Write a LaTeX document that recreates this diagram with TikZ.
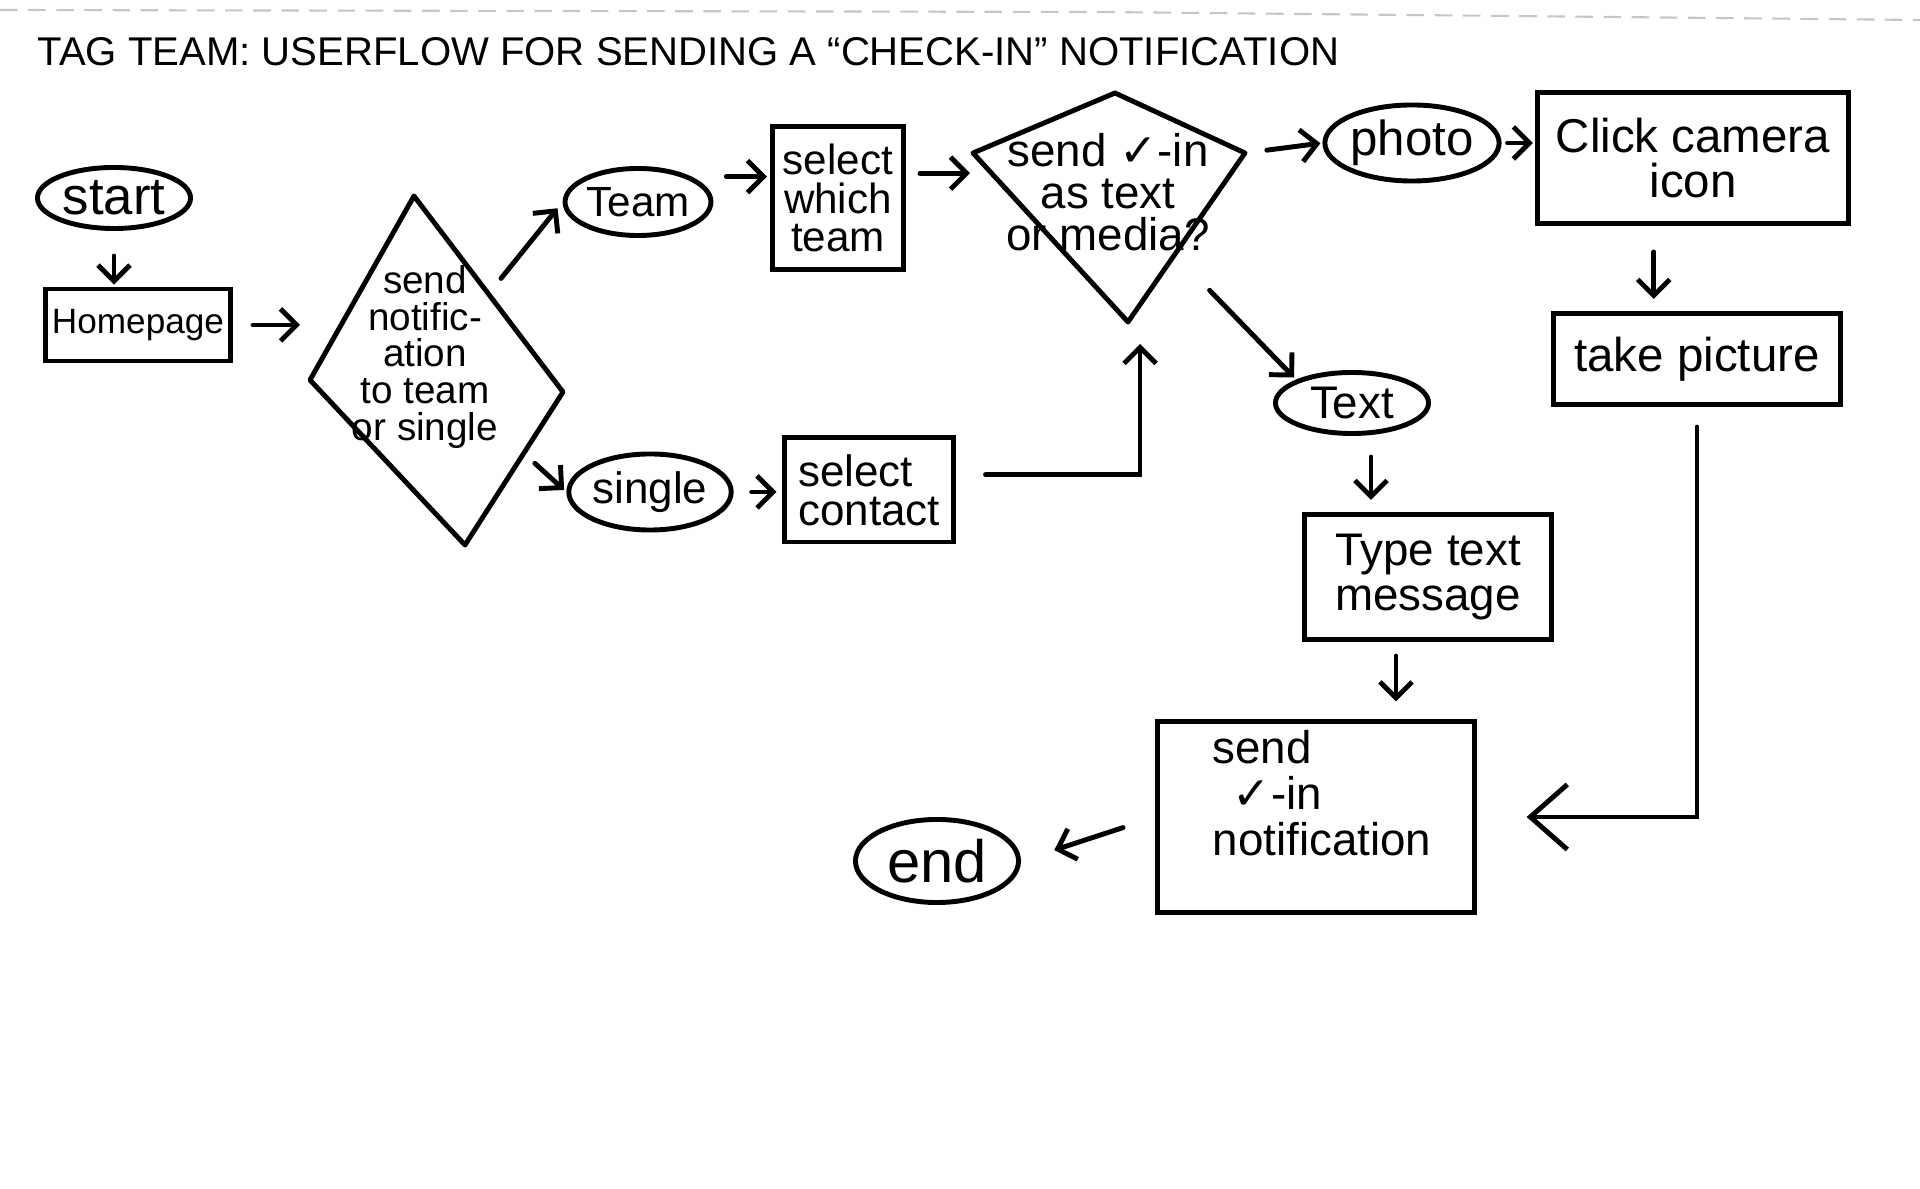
\documentclass[tikz,border=0pt]{standalone}
\usepackage{fontspec}
\setmainfont{Liberation Sans}
\newfontfamily\symfnt{DejaVu Sans}
\usetikzlibrary{shapes.geometric,arrows.meta,calc}
\newcommand{\chkm}{{\symfnt ✓}}
\begin{document}
\begin{tikzpicture}[x=0.01cm,y=-0.01cm,
  ink/.style={line width=1.4pt, black},
  boxn/.style={ink, draw, rectangle, inner sep=0pt, align=center, font=\fontsize{13}{13}\selectfont},
  term/.style={ink, draw, ellipse, inner sep=0pt, font=\fontsize{14}{14}\selectfont},
  lbl/.style={inner sep=0pt, align=center},
  arr/.style={ink, -{Straight Barb[length=1.6mm,width=3.2mm]}, line cap=round},
  bigarr/.style={ink, -{Straight Barb[length=3.7mm,width=6.5mm]}, line cap=round},
]
\useasboundingbox (0,0) rectangle (1920,1189);
\fill[white] (0,0) rectangle (1920,1189);
\draw[gray!45, line width=0.6pt, dash pattern=on 5pt off 3pt] (0,10) -- (1100,12) -- (1920,20);

\node[anchor=west, inner sep=0pt, font=\fontsize{11.4}{12}\selectfont] (title) at (37,52) {TAG TEAM: USERFLOW FOR SENDING A “CHECK-IN” NOTIFICATION};

\node[term, minimum width=1.53cm, minimum height=0.61cm, font=\fontsize{15}{15}\selectfont] (start) at (114,198) {start};
\node[boxn, minimum width=1.85cm, minimum height=0.72cm, font=\fontsize{10}{11}\selectfont] (home) at (138,325) {Homepage};

\coordinate (d1n) at (414,196);
\coordinate (d1e) at (563,392);
\coordinate (d1s) at (465,545);
\coordinate (d1w) at (310,380);
\draw[ink, line join=round] (d1n) -- (d1e) -- (d1s) -- (d1w) -- cycle;
\node[lbl, font=\fontsize{11}{10.5}\selectfont] (d1t) at (425,357) {send\\notific-\\ation\\to team\\or single};

\node[term, minimum width=1.38cm, minimum height=0.67cm, font=\fontsize{12}{12}\selectfont] (team) at (638,202) {Team};
\node[term, minimum width=1.32cm, minimum height=0.76cm, font=\fontsize{12.5}{12}\selectfont] (single) at (650,492) {single};
\node[boxn, minimum width=1.31cm, minimum height=1.43cm, font=\fontsize{12}{11}\selectfont] (swt) at (838,198) {select\\which\\team};
\node[boxn, minimum width=1.68cm, minimum height=1.04cm, align=left, font=\fontsize{12.5}{11}\selectfont] (sc) at (869,490) {select\\contact};

\coordinate (d2n) at (1115,93);
\coordinate (d2e) at (1245,153);
\coordinate (d2s) at (1128,322);
\coordinate (d2w) at (973,153);
\draw[ink, line join=round] (d2n) -- (d2e) -- (d2s) -- (d2w) -- cycle;
\node[lbl, font=\fontsize{13}{12}\selectfont] (d2) at (1108,192) {send \chkm-in\\as text\\or media?};

\node[term, minimum width=1.47cm, minimum height=0.76cm] (photo) at (1412,143) {photo};
\node[boxn, minimum width=3.11cm, minimum height=1.31cm, font=\fontsize{13.5}{13}\selectfont] (cc) at (1693,158) {Click camera\\icon};
\node[boxn, minimum width=2.87cm, minimum height=0.91cm, font=\fontsize{13.5}{13}\selectfont] (tp) at (1697,359) {take picture};
\node[term, minimum width=1.53cm, minimum height=0.61cm, font=\fontsize{13}{13}\selectfont] (text) at (1352,403) {Text};
\node[boxn, minimum width=2.46cm, minimum height=1.25cm] (type) at (1428,577) {Type text\\message};
\node[boxn, minimum width=3.16cm, minimum height=1.90cm] (send) at (1316,817) {};
\node[lbl, align=left, anchor=west, font=\fontsize{13}{13}\selectfont] (sendt) at (1212,793) {send\\\hspace*{0.2cm}\chkm-in\\notification};
\node[term, minimum width=1.63cm, minimum height=0.83cm, font=\fontsize{17}{17}\selectfont] (end) at (937,861) {end};

\coordinate (tx) at ($(text.south)+(19,0)$);
\coordinate (ty) at ($(type.south)+(-32,0)$);
\coordinate (d2m) at ($(d2e)!0.6!(d2s)$);
\coordinate (d2b) at ($(d2s)+(12,0)$);
\coordinate (d1ne) at ($(d1n)!0.5!(d1e)$);
\coordinate (d1se) at ($(d1e)!0.4!(d1s)$);

\draw[arr, shorten <=0.25cm, shorten >=0.02cm] (start.south) -- (start.south |- home.north);
\draw[arr, shorten <=0.2cm, shorten >=0.1cm] (home.east) -- (home.east -| d1w);
\draw[arr, shorten <=0.2cm, shorten >=0.08cm] (d1ne) -- (team.west);
\draw[arr, shorten <=0.15cm, shorten >=0.03cm] (d1se) -- (single.west);
\draw[arr, shorten <=0.35cm, shorten >=0.03cm] (team.north east) -- (team.north east -| swt.west);
\draw[arr, shorten <=0.18cm, shorten >=0.06cm] (single.east) -- (single.east -| sc.west);
\draw[arr, shorten <=0.14cm, shorten >=0.03cm] (swt.20) -- (swt.20 -| d2w);
\draw[arr, shorten <=0.3cm, shorten >=0.22cm] (sc.10) -| (d2b);
\draw[arr, shorten <=0.22cm, shorten >=0.02cm] (d2e) -- (photo.west);
\draw[arr, shorten <=0.06cm, shorten >=0.02cm] (photo.east) -- (photo.east -| cc.west);
\draw[arr, shorten <=0.5cm, shorten >=0.03cm] (d2m) -- (text.north west);
\draw[arr, shorten <=0.26cm, shorten >=0.12cm] (cc.240) -- (cc.240 |- tp.north);
\draw[arr, shorten <=0.21cm, shorten >=0.12cm] (tx) -- (tx |- type.north);
\draw[arr, shorten <=0.14cm, shorten >=0.18cm] (ty) -- (ty |- send.north);
\draw[bigarr, shorten <=0.2cm, shorten >=0.5cm] (tp.south) |- (send.east);
\draw[arr, shorten <=0.34cm, shorten >=0.35cm] (send.west) -- (end.east);
\end{tikzpicture}
\end{document}
